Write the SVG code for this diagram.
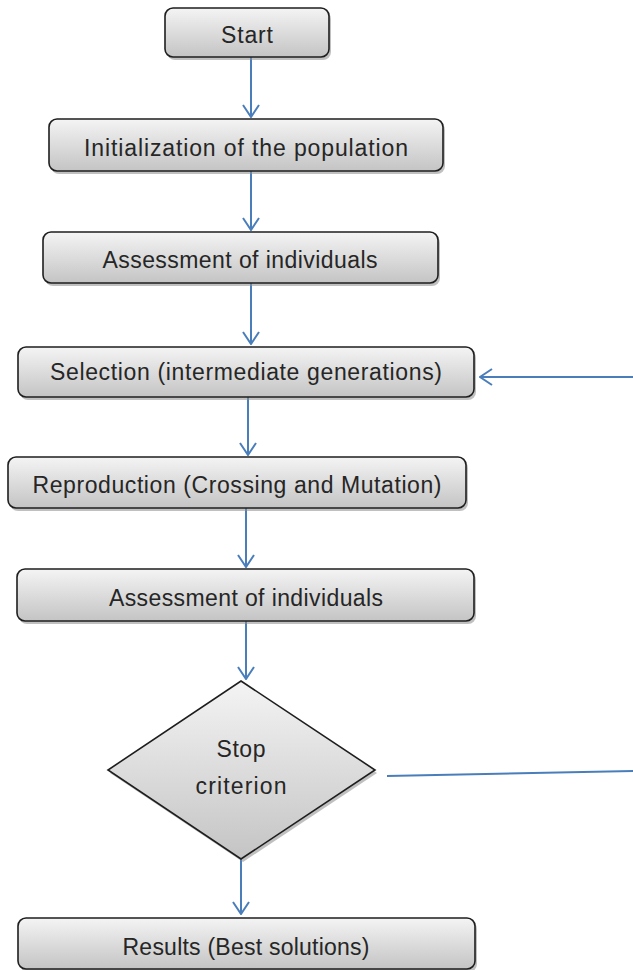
<svg xmlns="http://www.w3.org/2000/svg" width="633" height="970" viewBox="0 0 633 970">
<style>
.box{fill:url(#g);stroke:#1e1e1e;stroke-width:1.6}
.sh{fill:#8c8c8c;opacity:0.55}
.t{font-family:"Liberation Sans",Arial,sans-serif;font-size:23px;fill:#262626;text-anchor:middle}
.c{stroke:#4a7ebb;stroke-width:2;fill:none}
.a{marker-end:url(#ah)}
</style>
<defs>
<linearGradient id="g" x1="0" y1="0" x2="0" y2="1">
<stop offset="0" stop-color="#f4f4f4"/>
<stop offset="1" stop-color="#c4c4c4"/>
</linearGradient>
<marker id="ah" viewBox="0 0 14 18" refX="13" refY="9" markerWidth="14" markerHeight="18" markerUnits="userSpaceOnUse" orient="auto">
<path d="M1,1 L13,9 L1,17" fill="none" stroke="#4a7ebb" stroke-width="2"/>
</marker>
</defs>
<g id="connectors">
<line class="c a" x1="251" y1="57" x2="251" y2="117"/>
<line class="c a" x1="251" y1="171" x2="251" y2="230"/>
<line class="c a" x1="251" y1="283" x2="251" y2="344"/>
<line class="c a" x1="248" y1="397" x2="248" y2="455"/>
<line class="c a" x1="246" y1="508" x2="246" y2="567"/>
<line class="c a" x1="246" y1="621" x2="246" y2="679"/>
<line class="c a" x1="241" y1="859" x2="241" y2="914"/>
<line class="c a" x1="633" y1="377" x2="480" y2="377"/>
<line class="c" x1="387" y1="776" x2="633" y2="771"/>
</g>
<g id="start">
<rect class="sh" x="167" y="11" width="164" height="49" rx="8"/>
<rect class="box" x="165" y="8" width="164" height="49" rx="8"/>
<text class="t" x="247" y="43" textLength="52">Start</text>
</g>
<g id="init">
<rect class="sh" x="51" y="122" width="394" height="52" rx="8"/>
<rect class="box" x="49" y="119" width="394" height="52" rx="8"/>
<text class="t" x="246" y="156" textLength="324">Initialization of the population</text>
</g>
<g id="assess1">
<rect class="sh" x="45" y="235" width="395" height="51" rx="8"/>
<rect class="box" x="43" y="232" width="395" height="51" rx="8"/>
<text class="t" x="240" y="268" textLength="275">Assessment of individuals</text>
</g>
<g id="selection">
<rect class="sh" x="20" y="350" width="456" height="50" rx="8"/>
<rect class="box" x="18" y="347" width="456" height="50" rx="8"/>
<text class="t" x="246" y="380" textLength="392">Selection (intermediate generations)</text>
</g>
<g id="reproduction">
<rect class="sh" x="10" y="460" width="458" height="51" rx="8"/>
<rect class="box" x="8" y="457" width="458" height="51" rx="8"/>
<text class="t" x="237" y="493" textLength="409">Reproduction (Crossing and Mutation)</text>
</g>
<g id="assess2">
<rect class="sh" x="19" y="572" width="457" height="52" rx="8"/>
<rect class="box" x="17" y="569" width="457" height="52" rx="8"/>
<text class="t" x="246" y="606" textLength="274">Assessment of individuals</text>
</g>
<g id="stop">
<polygon class="sh" points="243,684 377,773 243,862 110,773"/>
<polygon class="box" points="241,681 375,770 241,859 108,770"/>
<text class="t" x="241" y="757" textLength="49">Stop</text>
<text class="t" x="241" y="794" textLength="91">criterion</text>
</g>
<g id="results">
<rect class="sh" x="20" y="921" width="457" height="51" rx="8"/>
<rect class="box" x="18" y="918" width="457" height="51" rx="8"/>
<text class="t" x="246" y="955" textLength="247">Results (Best solutions)</text>
</g>
</svg>
